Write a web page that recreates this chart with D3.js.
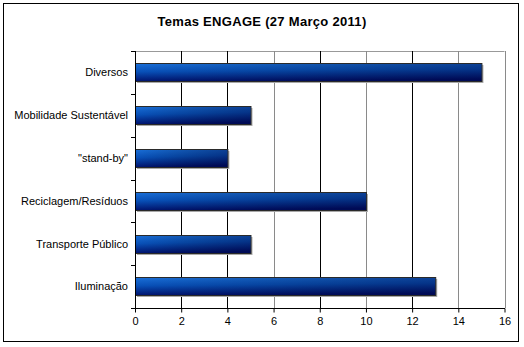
<!DOCTYPE html>
<html>
<head>
<meta charset="utf-8">
<script src="https://cdn.jsdelivr.net/npm/d3@7"></script>
<style>
  html, body { margin: 0; padding: 0; background: #fff; }
  svg { display: block; }
  text { font-family: "Liberation Sans", Arial, sans-serif; }
</style>
</head>
<body>
<svg id="chart" width="524" height="347"></svg>
<script>
const title = "Temas ENGAGE (27 Março 2011)";
const categories = ["Diversos", "Mobilidade Sustentável", "\"stand-by\"", "Reciclagem/Resíduos", "Transporte Público", "Iluminação"];
const values = [15, 5, 4, 10, 5, 13];
const xTicks = [0, 2, 4, 6, 8, 10, 12, 14, 16];

const svg = d3.select("#chart");
const W = 524, H = 347;
const plot = { left: 135, right: 504.5, top: 51, bottom: 308 };

// outer frame
svg.append("rect").attr("x", 3.5).attr("y", 3.5).attr("width", 515).attr("height", 338)
  .attr("fill", "#fff").attr("stroke", "#000").attr("stroke-width", 1);

// title
svg.append("text").attr("x", 262).attr("y", 26).attr("text-anchor", "middle")
  .attr("font-size", 13).attr("font-weight", "bold").attr("letter-spacing", 0.3).text(title);

const x = d3.scaleLinear().domain([0, 16]).range([plot.left, plot.right]);
const y = d3.scaleBand().domain(categories).range([plot.top, plot.bottom])
  .paddingInner(0.57).paddingOuter(0.285);

// gradient
const defs = svg.append("defs");
const grad = defs.append("linearGradient").attr("id", "barGrad")
  .attr("x1", 0).attr("y1", 0).attr("x2", 0.15).attr("y2", 1);
grad.append("stop").attr("offset", "0%").attr("stop-color", "#1a6fd8");
grad.append("stop").attr("offset", "45%").attr("stop-color", "#0850b8");
grad.append("stop").attr("offset", "100%").attr("stop-color", "#00106a");
const gradH = defs.append("linearGradient").attr("id", "barShade")
  .attr("x1", 0).attr("y1", 0).attr("x2", 1).attr("y2", 0);
gradH.append("stop").attr("offset", "0%").attr("stop-color", "#000").attr("stop-opacity", 0);
gradH.append("stop").attr("offset", "100%").attr("stop-color", "#000030").attr("stop-opacity", 0.35);

// top border of plot
svg.append("line").attr("x1", plot.left).attr("x2", plot.right)
  .attr("y1", plot.top + 0.5).attr("y2", plot.top + 0.5).attr("stroke", "#999");

// gridlines
const darkTicks = new Set([2, 4, 8, 12]);
svg.append("g").selectAll("line").data(xTicks.filter(d => d > 0)).join("line")
  .attr("x1", d => Math.round(x(d)) + 0.5).attr("x2", d => Math.round(x(d)) + 0.5)
  .attr("y1", plot.top).attr("y2", plot.bottom)
  .attr("stroke", d => darkTicks.has(d) ? "#000" : "#8a8a8a");

// bars
const bars = svg.append("g");
bars.selectAll("rect.shadow").data(categories).join("rect").attr("class", "shadow")
  .attr("x", x(0) + 2).attr("y", d => Math.round(y(d)) + 2)
  .attr("width", (d, i) => x(values[i]) - x(0)).attr("height", Math.round(y.bandwidth()))
  .attr("fill", "#a8a8a8");
bars.selectAll("rect.bar").data(categories).join("rect").attr("class", "bar")
  .attr("x", x(0) + 0.5).attr("y", d => Math.round(y(d)) + 0.5)
  .attr("width", (d, i) => x(values[i]) - x(0)).attr("height", Math.round(y.bandwidth()))
  .attr("fill", "url(#barGrad)").attr("stroke", "#2a2a2a").attr("stroke-width", 1);
bars.selectAll("rect.shade").data(categories).join("rect").attr("class", "shade")
  .attr("x", x(0) + 1).attr("y", d => Math.round(y(d)) + 1)
  .attr("width", (d, i) => x(values[i]) - x(0) - 1).attr("height", Math.round(y.bandwidth()) - 1)
  .attr("fill", "url(#barShade)");

// x axis
const xAxis = d3.axisBottom(x).tickValues(xTicks).tickSize(4).tickPadding(5).tickFormat(d3.format("d"));
const gx = svg.append("g").attr("transform", `translate(0,${plot.bottom + 0.5})`).call(xAxis);
gx.select(".domain").attr("stroke", "#000").attr("d", `M${plot.left},0H${plot.right + 0.5}`);
gx.selectAll(".tick line").attr("stroke", "#000");
gx.selectAll(".tick text").attr("font-size", 11).attr("font-family", "Liberation Sans, Arial, sans-serif").attr("fill", "#000");

// y axis line
svg.append("line").attr("x1", plot.left + 0.5).attr("x2", plot.left + 0.5)
  .attr("y1", plot.top).attr("y2", plot.bottom + 4).attr("stroke", "#000");
// y ticks at band boundaries
const step = y.step();
const boundaries = d3.range(categories.length + 1).map(i => plot.top + i * (plot.bottom - plot.top) / categories.length);
svg.append("g").selectAll("line").data(boundaries).join("line")
  .attr("x1", plot.left - 4).attr("x2", plot.left)
  .attr("y1", d => Math.round(d) + 0.5).attr("y2", d => Math.round(d) + 0.5).attr("stroke", "#000");

// category labels
svg.append("g").selectAll("text").data(categories).join("text")
  .attr("x", 128).attr("y", d => y(d) + y.bandwidth() / 2).attr("dy", "0.35em")
  .attr("text-anchor", "end").attr("font-size", 11).text(d => d);
</script>
</body>
</html>
